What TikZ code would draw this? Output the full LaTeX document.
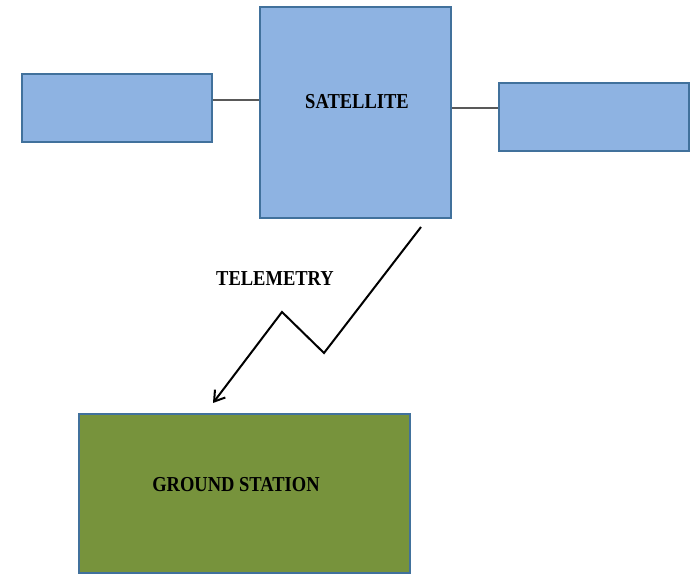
\documentclass[tikz,border=0pt]{standalone}
\usepackage{fontspec}
\setmainfont{Liberation Serif}
\usetikzlibrary{arrows.meta}
\definecolor{panelblue}{HTML}{8EB3E2}
\definecolor{edgeblue}{HTML}{41719C}
\definecolor{groundgreen}{HTML}{77933C}
\tikzset{
  bluebox/.style={draw=edgeblue, line width=1.6pt, fill=panelblue, inner sep=0pt},
  groundbox/.style={draw=edgeblue, line width=1.2pt, fill=groundgreen, inner sep=0pt},
  boxtext/.style={font=\bfseries\fontsize{18.5}{22}\selectfont, yscale=1.15},
  link/.style={draw=black!65, line width=1.5pt}
}
\begin{document}
\begin{tikzpicture}[x=1pt,y=-1pt]
\useasboundingbox (0,0) rectangle (694,575);
% satellite with its two panels
\node[bluebox, minimum width=191pt, minimum height=211pt] (sat) at (355.5,112.5) {};
\node[boxtext] (sattext) at (357,102) {SATELLITE};
\node[bluebox, minimum width=190pt, minimum height=68pt] (panelL) at (117,108) {};
\node[bluebox, minimum width=190pt, minimum height=68pt] (panelR) at (594,117) {};
\draw[link] ([yshift=8pt]panelL.east) -- ([yshift=8pt]panelL.east -| sat.west);
\draw[link] ([yshift=9pt]panelR.west) -- ([yshift=9pt]panelR.west -| sat.east);
% ground station
\node[groundbox, minimum width=331pt, minimum height=159pt] (ground) at (244.5,493.5) {};
\node[boxtext] (groundtext) at (236,485) {GROUND STATION};
% telemetry link, zigzag
\coordinate (tmA) at (421,227);
\coordinate (tmB) at (324,353);
\coordinate (tmC) at (282,312);
\coordinate (tmD) at (213,403);
\draw[line width=2pt, -{Straight Barb[length=10pt,width=13pt]}] (tmA) -- (tmB) -- (tmC) -- (tmD);
\node[boxtext] (tmtext) at (275,279) {TELEMETRY};
\end{tikzpicture}
\end{document}
